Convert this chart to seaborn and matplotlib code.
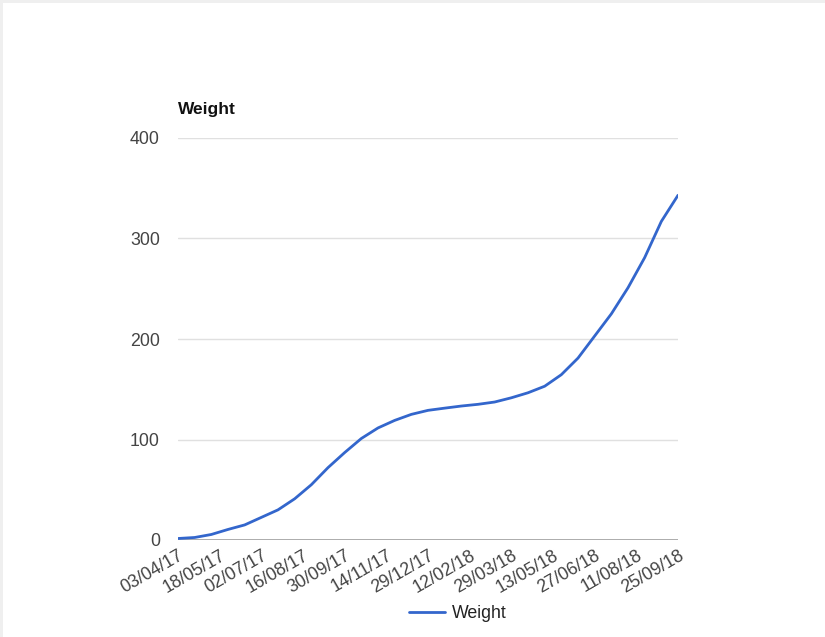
import matplotlib
matplotlib.use("Agg")
import matplotlib.pyplot as plt
from matplotlib.patches import Rectangle
import seaborn as sns
import pandas as pd

# Weight readings over time
dates = [
    "2017-04-03", "2017-04-21", "2017-05-09", "2017-05-27", "2017-06-14",
    "2017-07-02", "2017-07-20", "2017-08-07", "2017-08-25", "2017-09-12",
    "2017-09-30", "2017-10-18", "2017-11-05", "2017-11-23", "2017-12-11",
    "2017-12-29", "2018-01-16", "2018-02-03", "2018-02-21", "2018-03-11",
    "2018-03-29", "2018-04-16", "2018-05-04", "2018-05-22", "2018-06-09",
    "2018-06-27", "2018-07-15", "2018-08-02", "2018-08-20", "2018-09-07",
    "2018-09-25",
]
weight = [
    1.5, 2.5, 5.5, 10.5, 15,
    22.5, 30, 41, 55, 72,
    87, 101, 111.5, 119, 125,
    129, 131.2, 133.3, 135, 137.3,
    141.5, 146.5, 153, 164.5, 181,
    203, 225, 251, 281, 317,
    343,
]
tick_dates = [
    "2017-04-03", "2017-05-18", "2017-07-02", "2017-08-16", "2017-09-30",
    "2017-11-14", "2017-12-29", "2018-02-12", "2018-03-29", "2018-05-13",
    "2018-06-27", "2018-08-11", "2018-09-25",
]
y_ticks = [0, 100, 200, 300, 400]

df = pd.DataFrame({"Date": pd.to_datetime(dates), "Weight": weight})
ticks = pd.to_datetime(tick_dates)

sns.set_theme(style="white")
plt.rcParams["font.family"] = ["Liberation Sans", "DejaVu Sans"]

fig = plt.figure(figsize=(8.25, 6.37), dpi=100)
fig.patch.set_facecolor("white")
# light frame along the top and left edges
fig.patches.append(Rectangle((0, 1 - 3 / 637), 1, 3 / 637, transform=fig.transFigure,
                             facecolor="#efefef", edgecolor="none", zorder=0))
fig.patches.append(Rectangle((0, 0), 3 / 825, 1, transform=fig.transFigure,
                             facecolor="#efefef", edgecolor="none", zorder=0))

ax = fig.add_axes([178 / 825, 1 - 540 / 637, 500 / 825, 402 / 637])

sns.lineplot(data=df, x="Date", y="Weight", ax=ax, color="#3366cc",
             linewidth=2.0, label="Weight", legend=False)
for ln in ax.get_lines():
    ln.set_solid_joinstyle("round")
    ln.set_solid_capstyle("round")

ax.set_xlim(ticks[0], ticks[-1])
ax.set_ylim(0, 400)
ax.set_yticks(y_ticks)
ax.set_yticklabels([str(v) for v in y_ticks])
ax.set_xticks(ticks)
ax.set_xticklabels([d.strftime("%d/%m/%y") for d in ticks])

for s in ax.spines.values():
    s.set_visible(False)

ax.grid(False)
for v in y_ticks[1:]:
    ax.axhline(v, color="#e0e0e0", linewidth=1.0, zorder=0)
ax.axhline(0, color="#9e9e9e", linewidth=1.2, zorder=1)

ax.tick_params(axis="y", length=0, pad=13, labelsize=12.8, labelcolor="#444444")
ax.tick_params(axis="x", length=0, pad=5, labelsize=12.8, labelcolor="#444444")
for lbl in ax.get_xticklabels():
    lbl.set_rotation(30)
    lbl.set_ha("right")
    lbl.set_va("top")
    lbl.set_rotation_mode("anchor")

ax.set_xlabel("")
ax.set_ylabel("")
ax.text(0, 1.07, "Weight", transform=ax.transAxes, fontsize=12.5, fontweight="bold",
        color="#111111", ha="left", va="center")

handles, labels = ax.get_lines()[:1], ["Weight"]
fig.legend(handles, labels, loc="center", bbox_to_anchor=(458 / 825, 1 - 614 / 637),
           frameon=False, fontsize=12.8, handlelength=2.0, handletextpad=0.4,
           labelcolor="#222222")

fig.savefig("out.png", dpi=100, facecolor="white")
